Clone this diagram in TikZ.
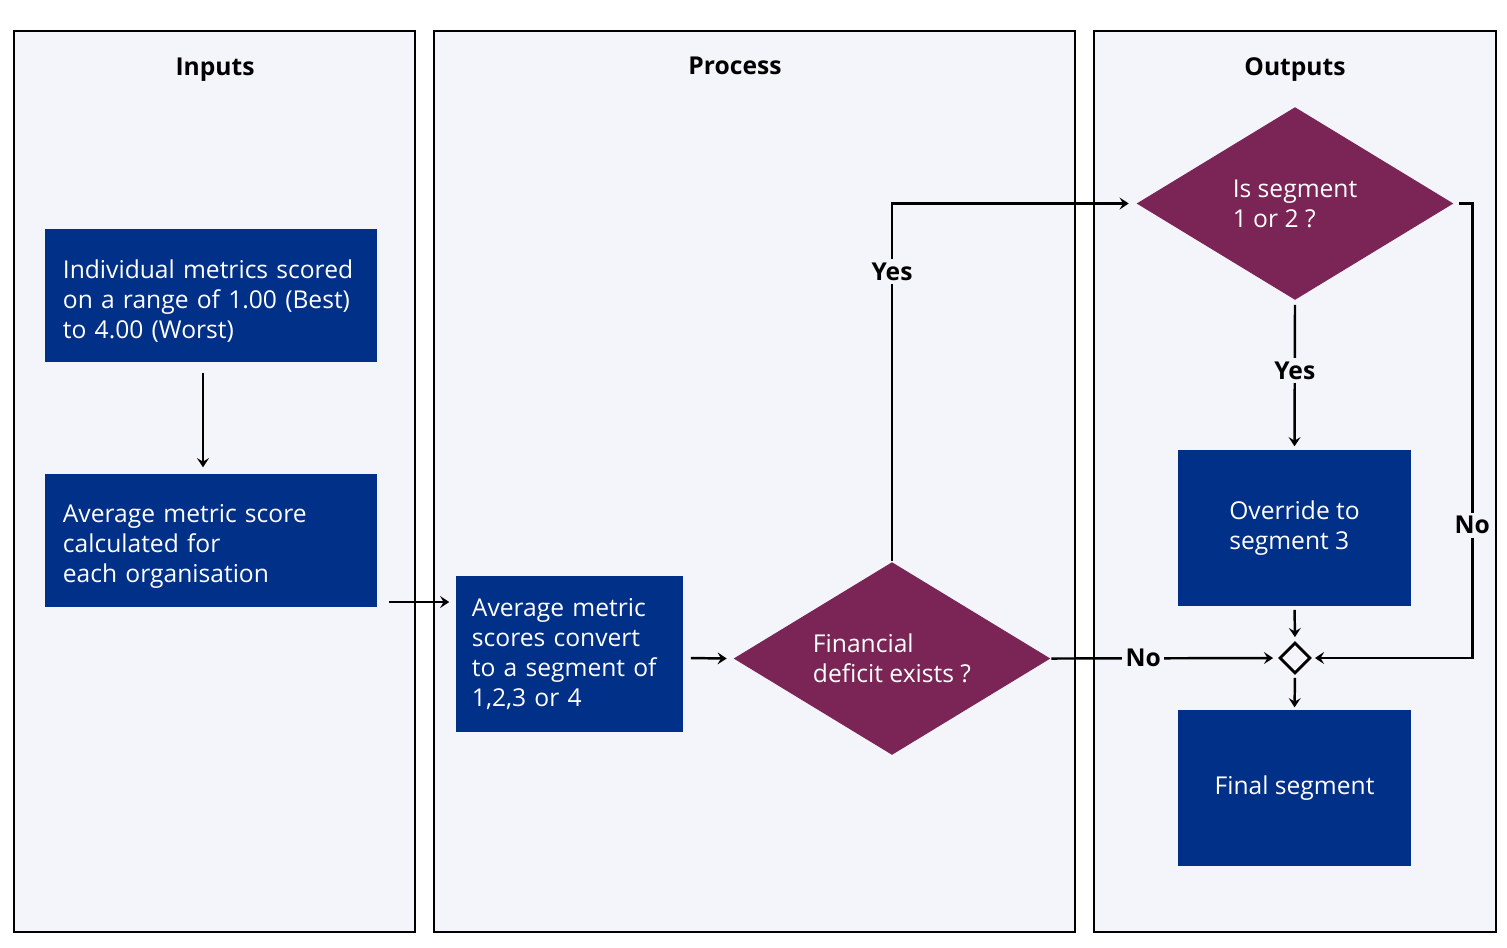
\documentclass[tikz,border=0pt]{standalone}
\usepackage{fontspec}
\setmainfont{Open Sans}
\usepackage{tikz}
\usetikzlibrary{arrows.meta,shapes.geometric}
\definecolor{nhsblue}{HTML}{003087}
\definecolor{plum}{HTML}{7A2555}
\definecolor{panelbg}{HTML}{F4F5FA}
\newcommand{\txt}{\fontsize{7}{8.5}\selectfont}
\newcommand{\topstrut}{\rule{0pt}{8.5pt}}
\tikzset{
  ar/.style={-{Stealth[length=2.6pt,width=3.4pt,inset=1pt]},line width=0.7pt,black},
  panel/.style={draw=black,line width=0.8pt,fill=panelbg},
  head/.style={font=\bfseries\txt,anchor=base},
  lbl/.style={font=\bfseries\txt,fill=panelbg,inner sep=1pt},
  box/.style={fill=nhsblue,text=white,align=left,font=\txt,inner xsep=0.18cm,inner ysep=0pt},
  dia/.style={diamond,aspect=1.65,fill=plum,text=white,align=left,font=\txt,inner sep=0pt,
    minimum width=3.17cm,minimum height=1.93cm},
  merge/.style={diamond,draw=black,line width=0.8pt,fill=panelbg,inner sep=0pt,
    minimum width=0.31cm,minimum height=0.31cm}
}
\begin{document}
\begin{tikzpicture}[x=0.01cm,y=-0.01cm]
\useasboundingbox[fill=white] (0,0) rectangle (1507,947);
\draw[panel] (14,31) rectangle (415,932);
\draw[panel] (434,31) rectangle (1075,932);
\draw[panel] (1094,31) rectangle (1496,932);
\node[head] (hin) at (215,75) {Inputs};
\node[head] (hpr) at (735,74) {Process};
\node[head] (hout) at (1295,75) {Outputs};

\node[box,text width=2.96cm,minimum width=3.32cm,minimum height=1.33cm] (metrics) at (211,295.5)
  {\topstrut Individual metrics scored\\on a range of 1.00 (Best)\\to 4.00 (Worst)};
\node[box,text width=2.96cm,minimum width=3.32cm,minimum height=1.33cm] (avg) at (211,540.5)
  {\topstrut Average metric score\\calculated for\\each organisation};
\node[box,inner xsep=0.16cm,text width=1.95cm,minimum width=2.27cm,minimum height=1.56cm] (conv) at (569.5,654)
  {Average metric\\scores convert\\to a segment of\\1,2,3 or 4};
\node[dia] (deficit) at (892,658.5) {Financial\\deficit exists ?};
\node[dia] (seg) at (1295,203.5) {Is segment\\1 or 2 ?};
\node[box,minimum width=2.33cm,minimum height=1.56cm] (override) at (1294.5,528) {Override to\\segment 3};
\node[merge] (mg) at (1295,658) {};
\node[box,minimum width=2.33cm,minimum height=1.56cm] (final) at (1294.5,788) {Final segment};

\coordinate (j1) at ([shift={(11,61.5)}]avg.east);
\draw[ar] ([shift={(-8,10)}]metrics.south) -- ([shift={(-8,-6)}]avg.north);
\draw[ar] (j1) -- ([xshift=-0.06cm]conv.west |- j1);
\draw[ar] ([shift={(7,4)}]conv.east) -- ([xshift=-0.06cm]deficit.west);
\draw[ar] (deficit.north) |- node[lbl,pos=0.405] {Yes} ([xshift=-0.07cm]seg.west);
\draw[ar,shorten <=0.04cm,shorten >=0.03cm] (seg.south) -- node[lbl,pos=0.47] {Yes} (override.north);
\draw[ar,shorten <=0.05cm,shorten >=0.03cm] (seg.east) -- ++(18,0) |- node[lbl,pos=0.354] {No} (mg.east);
\draw[ar,shorten >=0.05cm] (deficit.east) -- node[lbl,pos=0.405] {No} (mg.west);
\draw[ar,shorten <=0.03cm,shorten >=0.04cm] (override.south) -- (mg.north);
\draw[ar,shorten <=0.03cm,shorten >=0.02cm] (mg.south) -- (final.north);
\end{tikzpicture}
\end{document}
